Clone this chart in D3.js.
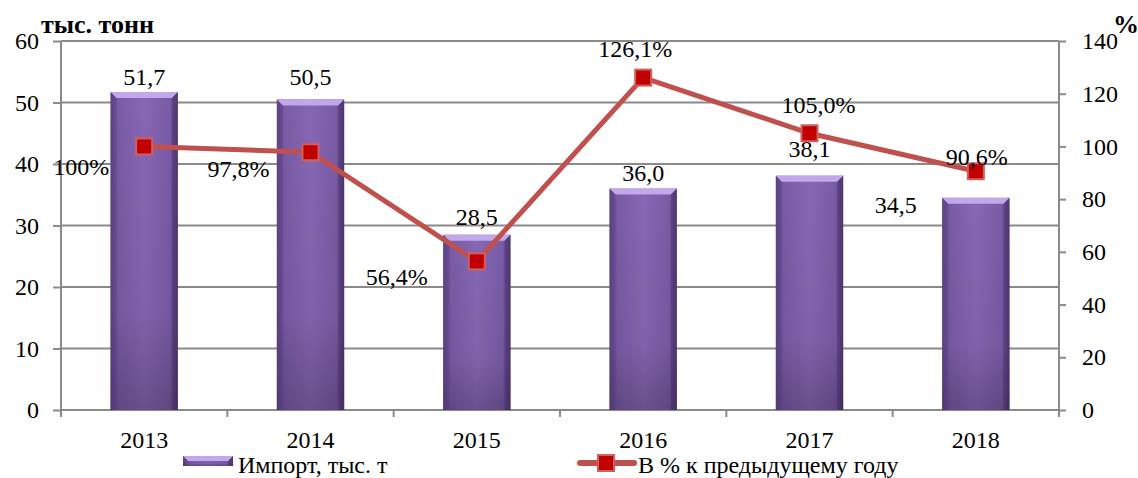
<!DOCTYPE html>
<html>
<head>
<meta charset="utf-8">
<script src="https://cdn.jsdelivr.net/npm/d3@7"></script>
<style>
  body { margin: 0; background: #fff; }
  svg text { font-family: "Liberation Serif", "Times New Roman", serif; }
</style>
</head>
<body>
<svg id="chart" width="1138" height="478"></svg>
<script>
// chart data
const years = ['2013', '2014', '2015', '2016', '2017', '2018'];
const importValues = [51.7, 50.5, 28.5, 36.0, 38.1, 34.5];
const importLabels = ['51,7', '50,5', '28,5', '36,0', '38,1', '34,5'];
const pctValues = [100, 97.8, 56.4, 126.1, 105.0, 90.6];
const pctLabels = ['100%', '97,8%', '56,4%', '126,1%', '105,0%', '90,6%'];
const leftTicks = [0, 10, 20, 30, 40, 50, 60];
const rightTicks = [0, 20, 40, 60, 80, 100, 120, 140];

// hand placed label offsets (px), as in the original
const barLabelShift = [[0, -7], [0, -14], [0, -10], [0, -8], [0, -19], [-80, 15]];
const pctLabelShift = [[-63, 29], [-72, 25], [-80, 24], [-8, -21], [9, -20], [1, -6]];

const FONT = '"Liberation Serif", "Times New Roman", serif';
const svg = d3.select('#chart').attr('font-family', FONT);
const plotL = 61, plotR = 1059, plotT = 41, plotB = 410;
const grey = '#8a8a8a';

let x = d3.scaleBand().domain(years).range([plotL, plotR])
    .paddingInner(0.595).paddingOuter(0.2975);
let yL = d3.scaleLinear().domain([0, 60]).range([plotB, plotT]);
let yR = d3.scaleLinear().domain([0, 140]).range([plotB, plotT]);

// gradients for the bevelled bars
let defs = svg.append('defs');
let hg = defs.append('linearGradient').attr('id', 'barH');
[['0%', '#5f4386'], ['12%', '#7a5ba6'], ['50%', '#8767b3'], ['88%', '#7a5ba6'], ['100%', '#563b7c']]
    .forEach(s => hg.append('stop').attr('offset', s[0]).attr('stop-color', s[1]));
let vg = defs.append('linearGradient').attr('id', 'barV').attr('x1', 0).attr('x2', 0).attr('y1', 0).attr('y2', 1);
[['0%', '#000', 0], ['70%', '#000', 0.05], ['100%', '#000', 0.22]]
    .forEach(s => vg.append('stop').attr('offset', s[0]).attr('stop-color', s[1]).attr('stop-opacity', s[2]));

// gridlines
svg.append('g').selectAll('line')
    .data(leftTicks.filter(d => d > 0))
    .join('line')
    .attr('x1', plotL).attr('x2', plotR)
    .attr('y1', d => yL(d)).attr('y2', d => yL(d))
    .attr('stroke', grey).attr('stroke-width', 2);

// left axis
let axL = svg.append('g').attr('transform', `translate(${plotL},0)`)
    .call(d3.axisLeft(yL).tickValues(leftTicks).tickSize(8).tickPadding(14).tickFormat(d3.format('d')));
// right axis
let axR = svg.append('g').attr('transform', `translate(${plotR},0)`)
    .call(d3.axisRight(yR).tickValues(rightTicks).tickSize(7).tickPadding(16).tickFormat(d3.format('d')));
// bottom axis: ticks between categories
let axB = svg.append('g').attr('transform', `translate(0,${plotB})`)
    .call(d3.axisBottom(x).tickSize(0).tickPadding(21));
axB.append('g').selectAll('line')
    .data(d3.range(years.length + 1))
    .join('line')
    .attr('x1', i => plotL + i * x.step()).attr('x2', i => plotL + i * x.step())
    .attr('y1', 0).attr('y2', 7)
    .attr('stroke', grey).attr('stroke-width', 2);

[axL, axR, axB].forEach(a => {
    a.attr('font-family', FONT).attr('font-size', 24);
    a.select('.domain').attr('stroke', grey).attr('stroke-width', 2);
    a.selectAll('.tick line').attr('stroke', grey).attr('stroke-width', 2);
    a.selectAll('text').attr('fill', '#000');
});
axL.select('.domain').attr('d', `M0,${plotT}V${plotB + 7}`);
axR.select('.domain').attr('d', `M0,${plotT}V${plotB + 7}`);
axB.select('.domain').attr('d', `M${plotL},0H${plotR}`);

// bevelled bar drawing
function bevelBar(g, x0, y0, w, h) {
    let b = Math.min(6, h / 2);
    g.append('rect').attr('x', x0).attr('y', y0).attr('width', w).attr('height', h).attr('fill', 'url(#barH)');
    g.append('rect').attr('x', x0).attr('y', y0).attr('width', w).attr('height', h).attr('fill', 'url(#barV)');
    g.append('polygon')
        .attr('points', [[x0, y0], [x0 + w, y0], [x0 + w - b, y0 + b], [x0 + b, y0 + b]].join(' '))
        .attr('fill', '#c0a8ea');
    g.append('polygon')
        .attr('points', [[x0, y0], [x0 + b, y0 + b], [x0 + b, y0 + h], [x0, y0 + h]].join(' '))
        .attr('fill', '#5a3f82').attr('opacity', 0.35);
    g.append('polygon')
        .attr('points', [[x0 + w, y0], [x0 + w - b, y0 + b], [x0 + w - b, y0 + h], [x0 + w, y0 + h]].join(' '))
        .attr('fill', '#3e2a5c').attr('opacity', 0.35);
}

let bars = svg.append('g');
years.forEach((yr, i) => {
    let g = bars.append('g');
    bevelBar(g, x(yr), yL(importValues[i]), x.bandwidth(), plotB - yL(importValues[i]));
});

// bar value labels
svg.append('g').attr('font-family', FONT).attr('font-size', 24)
    .selectAll('text')
    .data(years)
    .join('text')
    .attr('x', (d, i) => x(d) + x.bandwidth() / 2 + barLabelShift[i][0])
    .attr('y', (d, i) => yL(importValues[i]) + barLabelShift[i][1])
    .attr('text-anchor', 'middle')
    .text((d, i) => importLabels[i]);

// percent line
let cx = d => x(d) + x.bandwidth() / 2;
let line = d3.line().x((d, i) => cx(years[i])).y(d => yR(d));
svg.append('path').datum(pctValues)
    .attr('d', line).attr('fill', 'none')
    .attr('stroke', '#c0504d').attr('stroke-width', 5);
svg.append('g').selectAll('rect')
    .data(pctValues)
    .join('rect')
    .attr('x', (d, i) => cx(years[i]) - 8).attr('y', d => yR(d) - 8)
    .attr('width', 16).attr('height', 16)
    .attr('fill', '#c00000').attr('stroke', '#d0605c').attr('stroke-width', 2);

svg.append('g').attr('font-family', FONT).attr('font-size', 24)
    .selectAll('text')
    .data(pctValues)
    .join('text')
    .attr('x', (d, i) => cx(years[i]) + pctLabelShift[i][0])
    .attr('y', (d, i) => yR(d) + pctLabelShift[i][1])
    .attr('text-anchor', 'middle')
    .text((d, i) => pctLabels[i]);

// axis titles
svg.append('text').attr('x', 41).attr('y', 33).attr('font-family', FONT)
    .attr('font-size', 26).attr('font-weight', 'bold').text('тыс. тонн');
svg.append('text').attr('x', 1113).attr('y', 33).attr('font-family', FONT)
    .attr('font-size', 26).attr('font-weight', 'bold').text('%');

// legend
let lg = svg.append('g').attr('font-family', FONT).attr('font-size', 24);
bevelBar(lg, 183, 456, 50, 10);
lg.append('text').attr('x', 238).attr('y', 473).text('Импорт, тыс. т');
lg.append('line').attr('x1', 580).attr('x2', 634).attr('y1', 463).attr('y2', 463)
    .attr('stroke', '#c0504d').attr('stroke-width', 6).attr('stroke-linecap', 'round');
lg.append('rect').attr('x', 598).attr('y', 455).attr('width', 16).attr('height', 16)
    .attr('fill', '#c00000').attr('stroke', '#d0605c').attr('stroke-width', 2);
lg.append('text').attr('x', 638).attr('y', 473).text('В % к предыдущему году');
</script>
</body>
</html>
